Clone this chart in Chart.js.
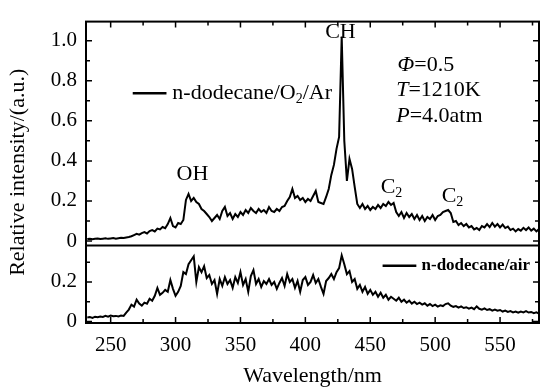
<!DOCTYPE html>
<html><head><meta charset="utf-8">
<script src="https://cdn.jsdelivr.net/npm/chart.js@4.4.1/dist/chart.umd.min.js"></script>
<style>html,body{margin:0;padding:0;background:#fff;}</style>
</head><body>
<canvas id="c" width="540" height="388" style="width:540px;height:388px;display:block"></canvas>
<script>
const wavelengths = [
 232,234,236,238,240,242,244,246,248,250,
 252,254,256,258,260,262,264,266,268,270,
 272,274,276,278,280,282,284,286,288,290,
 292,294,296,298,300,302,304,306,308,310,
 312,314,316,318,320,322,324,326,328,330,
 332,334,336,338,340,342,344,346,348,350,
 352,354,356,358,360,362,364,366,368,370,
 372,374,376,378,380,382,384,386,388,390,
 392,394,396,398,400,402,404,406,408,410,
 412,414,416,418,420,422,424,426,428,430,
 432,434,436,438,440,442,444,446,448,450,
 452,454,456,458,460,462,464,466,468,470,
 472,474,476,478,480,482,484,486,488,490,
 492,494,496,498,500,502,504,506,508,510,
 512,514,516,518,520,522,524,526,528,530,
 532,534,536,538,540,542,544,546,548,550,
 552,554,556,558,560,562,564,566,568,570,
 572,574,576,578,580];
const o2ArIntensity = [
 0.010,0.012,0.009,0.011,0.013,0.010,0.012,0.014,0.011,0.013,
 0.015,0.012,0.014,0.016,0.015,0.018,0.020,0.024,0.030,0.036,
 0.032,0.040,0.045,0.038,0.050,0.055,0.048,0.062,0.058,0.070,
 0.064,0.085,0.115,0.075,0.068,0.090,0.085,0.105,0.205,0.235,
 0.200,0.215,0.195,0.185,0.160,0.150,0.135,0.120,0.100,0.115,
 0.130,0.110,0.150,0.170,0.125,0.140,0.110,0.135,0.120,0.145,
 0.130,0.155,0.140,0.165,0.150,0.140,0.160,0.145,0.155,0.140,
 0.170,0.150,0.145,0.160,0.150,0.170,0.175,0.200,0.220,0.260,
 0.215,0.225,0.205,0.215,0.195,0.210,0.200,0.225,0.250,0.195,
 0.190,0.185,0.220,0.260,0.330,0.380,0.460,0.520,1.020,0.500,
 0.300,0.410,0.360,0.270,0.185,0.165,0.185,0.160,0.175,0.155,
 0.170,0.160,0.180,0.165,0.185,0.175,0.195,0.180,0.190,0.145,
 0.125,0.145,0.115,0.140,0.120,0.135,0.110,0.130,0.105,0.125,
 0.100,0.120,0.110,0.130,0.105,0.125,0.130,0.145,0.150,0.155,
 0.140,0.095,0.100,0.080,0.090,0.075,0.085,0.068,0.075,0.058,
 0.065,0.055,0.075,0.068,0.085,0.070,0.090,0.072,0.085,0.068,
 0.082,0.065,0.072,0.055,0.062,0.048,0.060,0.052,0.066,0.055,
 0.068,0.052,0.062,0.048,0.060];
const airIntensity = [
 0.020,0.022,0.018,0.024,0.021,0.025,0.023,0.028,0.024,0.030,
 0.026,0.028,0.025,0.030,0.028,0.045,0.060,0.085,0.075,0.110,
 0.090,0.080,0.095,0.090,0.115,0.105,0.130,0.170,0.135,0.145,
 0.160,0.150,0.210,0.165,0.130,0.150,0.180,0.250,0.240,0.290,
 0.310,0.330,0.200,0.275,0.250,0.280,0.220,0.235,0.190,0.210,
 0.140,0.215,0.180,0.225,0.190,0.210,0.170,0.225,0.195,0.250,
 0.185,0.215,0.150,0.230,0.260,0.190,0.215,0.175,0.205,0.190,
 0.215,0.185,0.200,0.165,0.195,0.220,0.180,0.240,0.200,0.215,
 0.170,0.205,0.150,0.210,0.225,0.185,0.200,0.235,0.195,0.215,
 0.175,0.140,0.205,0.220,0.240,0.215,0.250,0.270,0.335,0.290,
 0.240,0.255,0.200,0.215,0.165,0.185,0.150,0.175,0.140,0.160,
 0.135,0.150,0.125,0.145,0.120,0.135,0.110,0.125,0.115,0.105,
 0.120,0.100,0.110,0.095,0.105,0.090,0.100,0.088,0.095,0.085,
 0.092,0.080,0.088,0.078,0.085,0.075,0.082,0.078,0.088,0.092,
 0.080,0.074,0.078,0.070,0.076,0.068,0.072,0.065,0.070,0.062,
 0.076,0.064,0.060,0.066,0.058,0.062,0.055,0.060,0.054,0.058,
 0.050,0.055,0.048,0.052,0.046,0.050,0.044,0.050,0.046,0.052,
 0.045,0.048,0.042,0.046,0.040];
const xTickValues = [250,300,350,400,450,500,550];
const xMinorTickValues = [275,325,375,425,475,525,575];
const topYTickValues = [0,0.2,0.4,0.6,0.8,1.0];
const topYMinorTickValues = [0.1,0.3,0.5,0.7,0.9];
const bottomYTickValues = [0,0.2];
const bottomYMinorTickValues = [0.1,0.3];
const seriesNames = ['n-dodecane/O2/Ar','n-dodecane/air'];

const FONT = 'Liberation Serif';
const tickFont = {family: FONT, size: 21};

function toPoints(ys){ return wavelengths.map((w,i)=>({x:w,y:ys[i]})); }
function yLabel(v){ return v===0 ? '0' : Number(v).toFixed(1); }

function drawRich(ctx, parts, x, y, align, size, bold){
  const fontOf = p => (p[1]==='i'?'italic ':'') + (bold?'bold ':'') + ((p[1]==='s')?Math.round(size*0.65):size) + 'px "' + FONT + '"';
  const widths = parts.map(p=>{ctx.font = fontOf(p); return ctx.measureText(p[0]).width;});
  const total = widths.reduce((a,b)=>a+b,0);
  let cx = align==='center' ? x - total/2 : x;
  ctx.textAlign = 'left'; ctx.textBaseline = 'middle';
  parts.forEach((p,i)=>{ctx.font = fontOf(p); ctx.fillText(p[0], cx, p[1]==='s' ? y + size*0.28 : y); cx += widths[i];});
}

const annotations = [
  {parts:[['OH','']], x:313, y:0.336, scale:'yTop', align:'center'},
  {parts:[['CH','']], x:427, y:1.042, scale:'yTop', align:'center'},
  {parts:[['Φ','i'],['=0.5','']], x:471, y:0.878, scale:'yTop', align:'left'},
  {parts:[['T','i'],['=1210K','']], x:470, y:0.752, scale:'yTop', align:'left'},
  {parts:[['P','i'],['=4.0atm','']], x:470, y:0.621, scale:'yTop', align:'left'},
  {parts:[['C',''],['2','s']], x:458, y:0.268, scale:'yTop', align:'left'},
  {parts:[['C',''],['2','s']], x:505, y:0.225, scale:'yTop', align:'left'}
];

const frame = {
  id:'frame',
  afterDraw(chart){
    const ctx = chart.ctx, a = chart.chartArea;
    const x = chart.scales.x, yt = chart.scales.yTop, yb = chart.scales.yBot;
    ctx.save();
    ctx.strokeStyle = '#000'; ctx.fillStyle = '#000';
    ctx.lineWidth = 2;
    ctx.strokeRect(a.left, a.top, a.right - a.left, a.bottom - a.top);
    ctx.beginPath(); ctx.moveTo(a.left, yt.bottom); ctx.lineTo(a.right, yt.bottom); ctx.stroke();
    ctx.lineWidth = 1.5;
    const hTick = (sc, v, len) => { const p = sc.getPixelForValue(v);
      ctx.beginPath(); ctx.moveTo(a.left, p); ctx.lineTo(a.left+len, p);
      ctx.moveTo(a.right, p); ctx.lineTo(a.right-len, p); ctx.stroke(); };
    topYTickValues.forEach(v=>hTick(yt, v, 6));
    topYMinorTickValues.forEach(v=>hTick(yt, v, 4));
    bottomYTickValues.forEach(v=>hTick(yb, v, 6));
    bottomYMinorTickValues.forEach(v=>hTick(yb, v, 4));
    const vTick = (v, len) => { const p = x.getPixelForValue(v);
      ctx.beginPath(); ctx.moveTo(p, a.bottom); ctx.lineTo(p, a.bottom-len);
      ctx.moveTo(p, a.top); ctx.lineTo(p, a.top+len); ctx.stroke(); };
    xTickValues.forEach(v=>vTick(v, 6));
    xMinorTickValues.forEach(v=>vTick(v, 4));
    annotations.forEach(an=>{
      drawRich(ctx, an.parts, x.getPixelForValue(an.x), chart.scales[an.scale].getPixelForValue(an.y), an.align, 22, false);
    });
    ctx.lineWidth = 2.5;
    let ly = yt.getPixelForValue(0.737);
    ctx.beginPath(); ctx.moveTo(x.getPixelForValue(267), ly); ctx.lineTo(x.getPixelForValue(293), ly); ctx.stroke();
    drawRich(ctx, [['n-dodecane/O',''],['2','s'],['/Ar','']], x.getPixelForValue(297.5), ly, 'left', 22, false);
    ly = yb.getPixelForValue(0.282);
    ctx.beginPath(); ctx.moveTo(x.getPixelForValue(459.5), ly); ctx.lineTo(x.getPixelForValue(485.5), ly); ctx.stroke();
    drawRich(ctx, [[seriesNames[1],'']], x.getPixelForValue(489.5), ly, 'left', 17, true);
    ctx.font = '22px "' + FONT + '"';
    ctx.textAlign = 'center'; ctx.textBaseline = 'middle';
    ctx.fillText('Wavelength/nm', (a.left + a.right)/2, 376);
    ctx.translate(18, (a.top + a.bottom)/2);
    ctx.rotate(-Math.PI/2);
    ctx.fillText('Relative intensity/(a.u.)', 0, 0);
    ctx.restore();
  }
};

const yCommon = {
  type:'linear', position:'left', stack:'panels',
  grid:{display:false, drawTicks:false}, border:{display:false},
  ticks:{font:tickFont, color:'#000', padding:9, autoSkip:false, callback:yLabel},
  afterFit(s){ s.width = 86; }
};

new Chart(document.getElementById('c'), {
  type:'line',
  data:{datasets:[
    {label:seriesNames[0], data:toPoints(o2ArIntensity), yAxisID:'yTop', borderColor:'#000', borderWidth:2, pointRadius:0, tension:0, fill:false},
    {label:seriesNames[1], data:toPoints(airIntensity), yAxisID:'yBot', borderColor:'#000', borderWidth:2, pointRadius:0, tension:0, fill:false}
  ]},
  options:{
    responsive:false, animation:false, devicePixelRatio:1,
    layout:{padding:{left:0, right:1, top:12, bottom:0}},
    plugins:{legend:{display:false}, tooltip:{enabled:false}},
    scales:{
      x:{type:'linear', min:231, max:580,
        grid:{display:false, drawTicks:false}, border:{display:false},
        ticks:{font:tickFont, color:'#000', padding:10, maxRotation:0, autoSkip:false, callback:v=>String(v)},
        afterBuildTicks(s){ s.ticks = xTickValues.map(v=>({value:v})); },
        afterFit(s){ s.height = 65; }},
      yBot: Object.assign({}, yCommon, {min:-0.008, max:0.385, stackWeight:80,
        afterBuildTicks(s){ s.ticks = bottomYTickValues.map(v=>({value:v})); }}),
      yTop: Object.assign({}, yCommon, {min:-0.022, max:1.095, stackWeight:231,
        afterBuildTicks(s){ s.ticks = topYTickValues.map(v=>({value:v})); }})
    }
  },
  plugins:[frame]
});
</script>
</body></html>
